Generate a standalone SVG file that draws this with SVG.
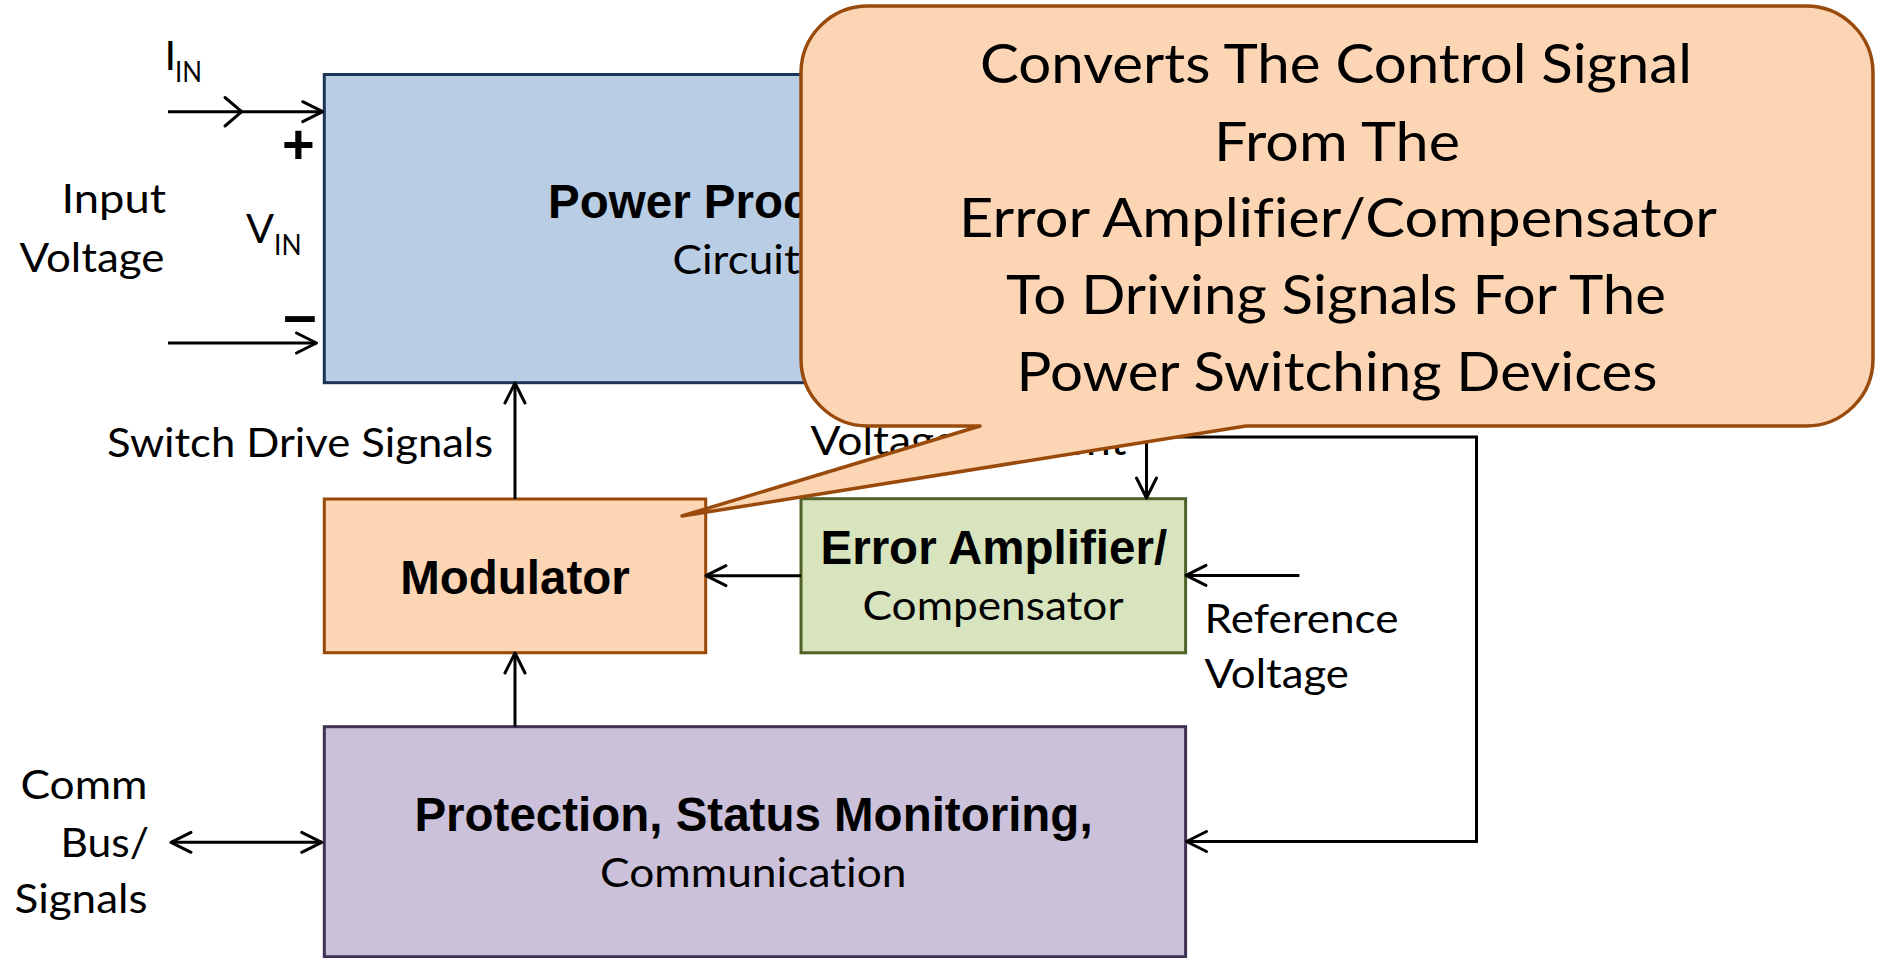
<svg xmlns="http://www.w3.org/2000/svg" width="1878" height="958" viewBox="0 0 1878 958">
  <defs>
    <style>
      text { font-variant-ligatures: none; font-feature-settings: "liga" 0, "clig" 0; }
      .box { stroke-width: 3; }
      .bold { font-family: "Liberation Sans", Arial, sans-serif; font-weight: bold; font-size: 47.5px; fill: #000; text-anchor: middle; }
      .reg { font-family: Lato, "Open Sans", sans-serif; font-size: 41.5px; fill: #000; }
      .sub { font-family: Lato, "Open Sans", sans-serif; font-size: 28px; fill: #000; }
      .note { font-family: Lato, "Open Sans", sans-serif; font-size: 54px; fill: #000; }
      .wire { fill: none; stroke: #000; stroke-width: 3; }
      .sign { font-family: "Liberation Sans", Arial, sans-serif; font-weight: bold; fill: #000; text-anchor: middle; }
    </style>
    <marker id="head" viewBox="-24 -14 28 28" refX="0" refY="0" markerWidth="28" markerHeight="28" markerUnits="userSpaceOnUse" orient="auto-start-reverse">
      <path d="M-20,-10 L0,0 L-20,10" fill="none" stroke="#000" stroke-width="3" stroke-linecap="round" stroke-linejoin="round"/>
    </marker>
  </defs>

  <rect width="1878" height="958" fill="#fff"/>

  <!-- power stage block -->
  <g id="power-processing">
    <rect class="box" x="324.3" y="74.5" width="861.3" height="308.2" fill="#b9cde5" stroke="#1c3556"/>
    <text class="bold" x="754" y="218.3">Power Processing</text>
    <text class="reg" x="672.5" y="274" textLength="166" lengthAdjust="spacingAndGlyphs">Circuitry</text>
  </g>

  <!-- modulator block -->
  <g id="modulator">
    <rect class="box" x="324.3" y="499" width="381.4" height="153.7" fill="#fcd5b5" stroke="#984807"/>
    <text class="bold" x="515" y="594">Modulator</text>
  </g>

  <!-- error amplifier / compensator block -->
  <g id="error-amplifier">
    <rect class="box" x="801" y="498.7" width="384.6" height="154.1" fill="#d7e4bd" stroke="#4f6228"/>
    <text class="bold" x="993.8" y="564.3">Error Amplifier/</text>
    <text class="reg" x="862.5" y="619.6" textLength="261" lengthAdjust="spacingAndGlyphs">Compensator</text>
  </g>

  <!-- protection / monitoring / communication block -->
  <g id="protection">
    <rect class="box" x="324.3" y="726.7" width="861.3" height="230" fill="#ccc1da" stroke="#3f3151"/>
    <text class="bold" x="753.5" y="830.7">Protection, Status Monitoring,</text>
    <text class="reg" x="600" y="886.7" textLength="306.5" lengthAdjust="spacingAndGlyphs">Communication</text>
  </g>

  <!-- signal paths -->
  <g id="connectors">
    <!-- input current / input rails -->
    <path class="wire" d="M168,111.7 H322.7" marker-end="url(#head)"/>
    <path class="wire" d="M225,97.5 L241.7,111.7 L225,126" stroke-linecap="round" stroke-linejoin="round"/>
    <path class="wire" d="M168,343 H316.5" marker-end="url(#head)"/>
    <!-- switch drive signals -->
    <path class="wire" d="M515,499 V383" marker-end="url(#head)"/>
    <!-- protection to modulator -->
    <path class="wire" d="M515,726.7 V653" marker-end="url(#head)"/>
    <!-- control signal to modulator -->
    <path class="wire" d="M801,575.7 H706" marker-end="url(#head)"/>
    <!-- reference voltage -->
    <path class="wire" d="M1299.4,575.4 H1186" marker-end="url(#head)"/>
    <!-- feedback from the power stage -->
    <path class="wire" d="M1146.5,383 V498" marker-end="url(#head)"/>
    <path class="wire" d="M1146.5,437 H1476.5 V841.5 H1186.5" marker-end="url(#head)"/>
    <!-- communication bus -->
    <path class="wire" d="M171,842.3 H321.7" marker-start="url(#head)" marker-end="url(#head)"/>
  </g>

  <!-- free labels -->
  <g id="labels">
    <text class="reg" x="164.5" y="70">I</text>
    <text class="sub" x="175" y="81.7" textLength="27" lengthAdjust="spacingAndGlyphs">IN</text>
    <text class="sign" x="298.3" y="162.5" font-size="56">+</text>
    <text class="sign" x="300" y="335" font-size="60">–</text>
    <text class="reg" x="246" y="243.3">V</text>
    <text class="sub" x="274" y="255" textLength="27.5" lengthAdjust="spacingAndGlyphs">IN</text>
    <text class="reg" x="61.5" y="213.3" textLength="104.5" lengthAdjust="spacingAndGlyphs">Input</text>
    <text class="reg" x="19.5" y="271.7" textLength="145" lengthAdjust="spacingAndGlyphs">Voltage</text>
    <text class="reg" x="107" y="456.7" textLength="386" lengthAdjust="spacingAndGlyphs">Switch Drive Signals</text>
    <text class="reg" x="810.5" y="455" textLength="316" lengthAdjust="spacingAndGlyphs">Voltage/Current</text>
    <text class="reg" x="1204.5" y="632.5" textLength="194" lengthAdjust="spacingAndGlyphs">Reference</text>
    <text class="reg" x="1204.5" y="687.8" textLength="144.5" lengthAdjust="spacingAndGlyphs">Voltage</text>
    <text class="reg" x="20.5" y="799.3" textLength="127" lengthAdjust="spacingAndGlyphs">Comm</text>
    <text class="reg" x="60.5" y="856.7" textLength="88.5" lengthAdjust="spacingAndGlyphs">Bus/</text>
    <text class="reg" x="14.5" y="913.3" textLength="133" lengthAdjust="spacingAndGlyphs">Signals</text>
  </g>

  <!-- explanatory callout pointing at the modulator -->
  <g id="callout">
    <path d="M868,6 H1806 A67,67 0 0 1 1873,73 V359 A67,67 0 0 1 1806,426 H1246 L682,516 L980,426 H868 A67,67 0 0 1 801,359 V73 A67,67 0 0 1 868,6 Z" fill="#fcd5b5" stroke="#9a4a0b" stroke-width="3.5" stroke-linejoin="round"/>
    <text class="note" x="980" y="83.3" textLength="712" lengthAdjust="spacingAndGlyphs">Converts The Control Signal</text>
    <text class="note" x="1214" y="160.7" textLength="246" lengthAdjust="spacingAndGlyphs">From The</text>
    <text class="note" x="959" y="237.3" textLength="758" lengthAdjust="spacingAndGlyphs">Error Amplifier/Compensator</text>
    <text class="note" x="1006" y="314" textLength="660" lengthAdjust="spacingAndGlyphs">To Driving Signals For The</text>
    <text class="note" x="1016.5" y="390.7" textLength="641" lengthAdjust="spacingAndGlyphs">Power Switching Devices</text>
  </g>
</svg>
